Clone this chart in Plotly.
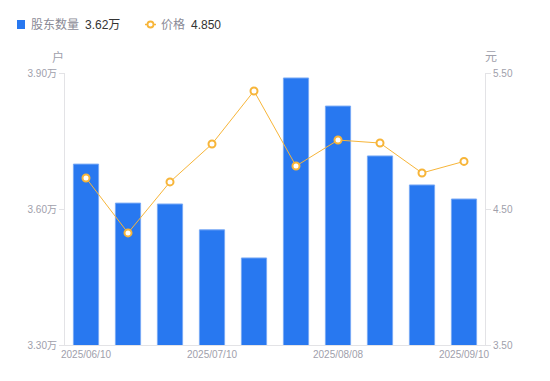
import plotly.graph_objects as go

dates = ["2025/06/10", "2025/06/20", "2025/06/30", "2025/07/10", "2025/07/20",
         "2025/07/31", "2025/08/08", "2025/08/20", "2025/08/29", "2025/09/10"]
holders = [3.699, 3.613, 3.611, 3.554, 3.492, 3.889, 3.827, 3.717, 3.653, 3.622]  # 万户
price = [4.728, 4.324, 4.699, 4.978, 5.368, 4.816, 5.007, 4.985, 4.765, 4.850]
x_ticks = ["2025/06/10", "2025/07/10", "2025/08/08", "2025/09/10"]
left_ticks = [3.30, 3.60, 3.90]
right_ticks = [3.50, 4.50, 5.50]
legend_names = ["股东数量", "价格"]
legend_values = ["3.62万", "4.850"]

BLUE = "#2878F0"
ORANGE = "#F7B539"
GRAY = "#a0a0ab"
FONT = "Liberation Sans, Noto Sans CJK SC, sans-serif"

OFF = 8  # page body margin
W, H = 542, 373
L, R, T, B = 57, 65, 65, 36
PW, PH = W - L - R, H - T - B


def px(x):
    return (x - OFF - L) / PW


def py(y):
    return (H - B - (y - OFF)) / PH


fig = go.Figure()
fig.add_trace(go.Bar(
    x=dates, y=holders, name=legend_names[0],
    marker=dict(color=BLUE, line=dict(color="#78a9f5", width=1)),
    width=0.6, yaxis="y",
))
fig.add_trace(go.Scatter(
    x=dates, y=price, name=legend_names[1],
    mode="lines+markers", yaxis="y2",
    line=dict(color=ORANGE, width=1),
    marker=dict(symbol="circle", size=7, color="white", line=dict(color=ORANGE, width=2)),
))

axis_common = dict(showgrid=False, showline=True, linecolor="#e3e3e6", linewidth=1,
                   zeroline=False, automargin=False,
                   tickfont=dict(size=10, color=GRAY, family=FONT))

fig.update_layout(
    width=W, height=H,
    margin=dict(l=L, r=R, t=T, b=B, autoexpand=False),
    paper_bgcolor="white", plot_bgcolor="white",
    font=dict(family=FONT, size=11, color=GRAY),
    showlegend=False,
    xaxis=dict(type="category", tickmode="array", tickvals=x_ticks, ticktext=x_ticks,
               range=[-0.5, len(dates) - 0.5], ticks="", **axis_common),
    yaxis=dict(range=[3.30, 3.90], tickmode="array", tickvals=left_ticks,
               ticktext=[f"{v:.2f}万" for v in left_ticks],
               ticks="outside", ticklen=5, tickcolor="#e3e3e6", **axis_common),
    yaxis2=dict(range=[3.50, 5.50], overlaying="y", side="right", tickmode="array",
                tickvals=right_ticks, ticktext=[f"{v:.2f}" for v in right_ticks],
                ticks="outside", ticklen=5, tickcolor="#e3e3e6", **axis_common),
)

# axis unit titles
fig.add_annotation(text="户", xref="paper", yref="paper", x=px(66), y=py(57),
                   xanchor="right", yanchor="middle", showarrow=False,
                   font=dict(size=12, color=GRAY))
fig.add_annotation(text="元", xref="paper", yref="paper", x=px(483), y=py(57),
                   xanchor="left", yanchor="middle", showarrow=False,
                   font=dict(size=12, color=GRAY))

# manual legend
ly = 24.5
fig.add_shape(type="rect", xref="paper", yref="paper",
              x0=px(17), x1=px(25), y0=py(ly - 4.5), y1=py(ly + 4.5),
              fillcolor=BLUE, line=dict(width=0))
fig.add_annotation(text=legend_names[0], xref="paper", yref="paper", x=px(29), y=py(ly),
                   xanchor="left", yanchor="middle", showarrow=False,
                   font=dict(size=12, color="#8a8a96"))
fig.add_annotation(text=legend_values[0], xref="paper", yref="paper", x=px(83), y=py(ly),
                   xanchor="left", yanchor="middle", showarrow=False,
                   font=dict(size=12, color="#333333"))
fig.add_shape(type="line", xref="paper", yref="paper",
              x0=px(145), x1=px(156), y0=py(ly), y1=py(ly),
              line=dict(color=ORANGE, width=1.5))
fig.add_shape(type="circle", xref="paper", yref="paper",
              x0=px(147.5), x1=px(153.5), y0=py(ly - 3), y1=py(ly + 3),
              fillcolor="white", line=dict(color=ORANGE, width=1.8))
fig.add_annotation(text=legend_names[1], xref="paper", yref="paper", x=px(159), y=py(ly),
                   xanchor="left", yanchor="middle", showarrow=False,
                   font=dict(size=12, color="#8a8a96"))
fig.add_annotation(text=legend_values[1], xref="paper", yref="paper", x=px(189), y=py(ly),
                   xanchor="left", yanchor="middle", showarrow=False,
                   font=dict(size=12, color="#333333"))

fig.write_html("out.html")
